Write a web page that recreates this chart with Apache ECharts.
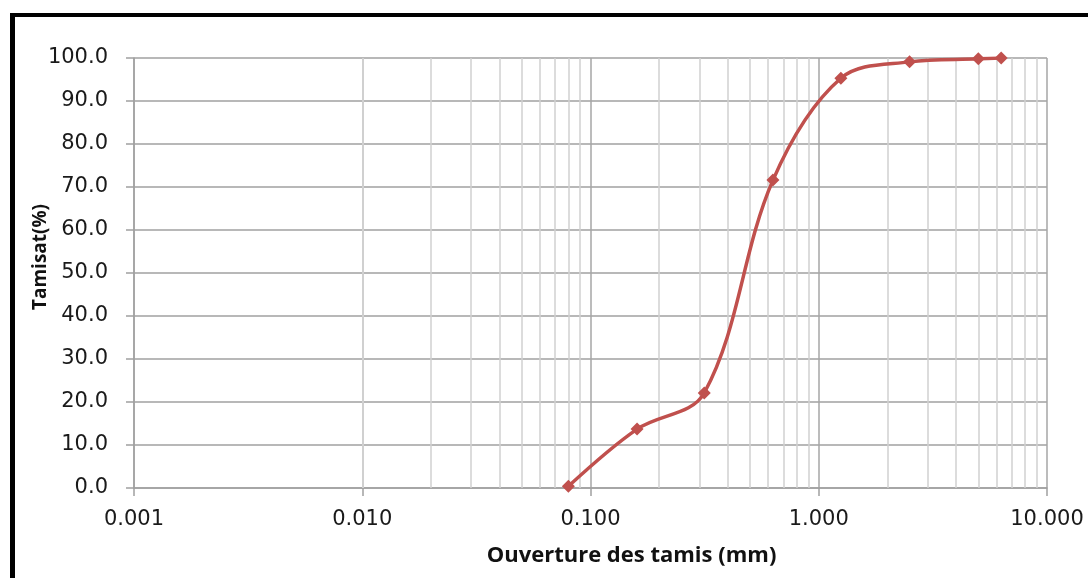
<!DOCTYPE html>
<html>
<head>
<meta charset="utf-8">
<script src="https://cdn.jsdelivr.net/npm/echarts@6/dist/echarts.min.js"></script>
<style>
  html, body { margin: 0; padding: 0; background: #fff; overflow: hidden; }
  #frame { position: absolute; left: 10px; top: 13px; width: 2000px; height: 2000px;
           border-top: 4px solid #000; border-left: 5px solid #000; box-sizing: border-box; }
  #chart { position: absolute; left: 0; top: 0; width: 1088px; height: 578px; }
</style>
</head>
<body>
<div id="frame"></div>
<div id="chart"></div>
<script>
// Sieve openings (mm) and passing percentages
const sieveSizes = [0.08, 0.16, 0.315, 0.63, 1.25, 2.5, 5, 6.3];
const passing = [0.4, 13.7, 22.1, 71.6, 95.3, 99.1, 99.8, 100.0];
// Minor vertical grid positions (log axis)
const minorGrid = [
  0.002, 0.003, 0.004, 0.005, 0.006, 0.007, 0.008, 0.009,
  0.02, 0.03, 0.04, 0.05, 0.06, 0.07, 0.08, 0.09,
  0.2, 0.3, 0.4, 0.5, 0.6, 0.7, 0.8, 0.9,
  2, 3, 4, 5, 6, 7, 8, 9
];
const xTitle = 'Ouverture des tamis (mm)';
const yTitle = 'Tamisat(%)';

const chart = echarts.init(document.getElementById('chart'), null, { renderer: 'canvas' });
const labelFont = { fontFamily: 'DejaVu Sans', fontSize: 21, color: '#1a1a1a' };

chart.setOption({
  backgroundColor: 'transparent',
  animation: false,
  grid: { left: 134, right: 41, top: 58, bottom: 90, containLabel: false },
  xAxis: {
    type: 'log', logBase: 10, min: 0.001, max: 10,
    name: xTitle, nameLocation: 'middle', nameGap: 57, nameMoveOverlap: false,
    nameTextStyle: { fontFamily: 'Open Sans', fontWeight: 'bold', fontSize: 22, color: '#111',
                     padding: [0, 0, 0, 82] },
    axisLine: { show: true, lineStyle: { color: '#a0a0a0', width: 1.5 } },
    axisTick: { show: true, length: 8, lineStyle: { color: '#a0a0a0', width: 1.5 } },
    axisLabel: Object.assign({ margin: 21, formatter: v => Number(v).toFixed(3) }, labelFont),
    splitLine: { show: true, lineStyle: { color: '#a6a6a6', width: 1.5 } },
    minorTick: { show: false }, minorSplitLine: { show: false }
  },
  yAxis: {
    type: 'value', min: 0, max: 100, interval: 10,
    name: yTitle, nameLocation: 'middle', nameGap: 84, nameRotate: 90, nameMoveOverlap: false,
    nameTextStyle: { fontFamily: 'Open Sans', fontWeight: 'bold', fontSize: 19, color: '#111',
                     padding: [0, 0, 0, 32] },
    axisLine: { show: true, lineStyle: { color: '#a0a0a0', width: 1.5 } },
    axisTick: { show: true, length: 8, lineStyle: { color: '#a0a0a0', width: 1.5 } },
    axisLabel: Object.assign({ margin: 26, formatter: v => Number(v).toFixed(1) }, labelFont),
    splitLine: { show: true, lineStyle: { color: '#a0a0a0', width: 1.5 } }
  },
  series: [
    {
      type: 'line', data: [], silent: true, z: 1,
      markLine: {
        silent: true, symbol: 'none', animation: false,
        label: { show: false },
        lineStyle: { color: '#d0d0d0', width: 1.5, type: 'solid' },
        data: minorGrid.map(v => ({ xAxis: v }))
      }
    },
    {
      type: 'line', z: 5,
      data: sieveSizes.map((s, i) => [s, passing[i]]),
      smooth: 0.35,
      symbol: 'diamond', symbolSize: 13,
      lineStyle: { color: '#C0504D', width: 3.5 },
      itemStyle: { color: '#C0504D' }
    }
  ]
});
</script>
</body>
</html>
